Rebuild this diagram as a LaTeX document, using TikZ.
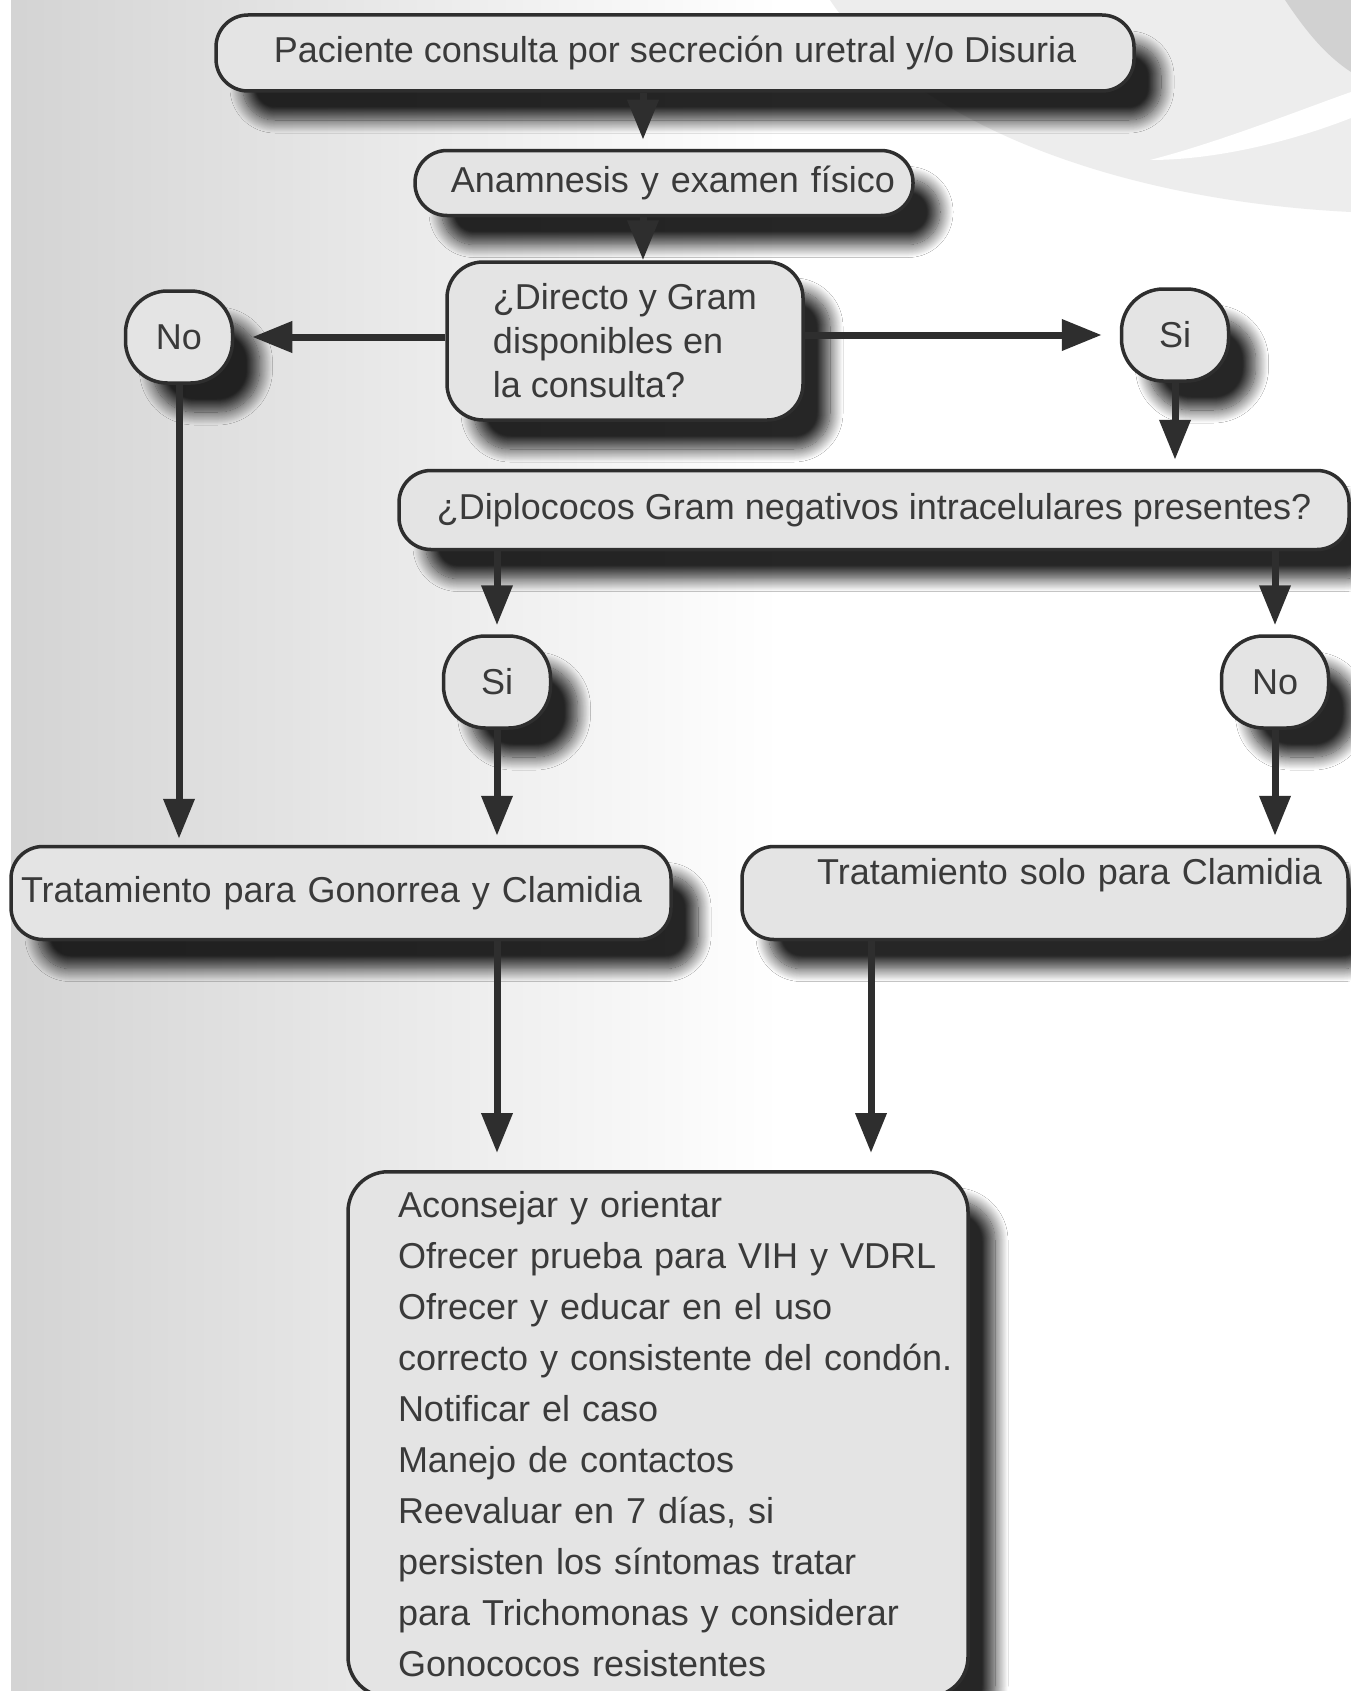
\documentclass[tikz,border=0pt]{standalone}
\usepackage{fontspec}
\setmainfont{Liberation Sans}
\usetikzlibrary{arrows.meta,shadows.blur}
\definecolor{tinta}{HTML}{2E2E2E}
\definecolor{relleno}{HTML}{E4E4E4}
\definecolor{letra}{HTML}{3A3A3A}
\newcommand\letrafs{\fontsize{36}{44}\selectfont}
\tikzset{
  caja/.style={draw=tinta, line width=3.5pt, fill=relleno, text=letra, font=\letrafs,
    rounded corners=32pt, inner sep=0pt,
    blur shadow={shadow xshift=27pt, shadow yshift=-29pt, shadow blur radius=13pt,
      shadow blur steps=18, shadow opacity=85}},
  resp/.style={caja, minimum width=107pt, minimum height=92pt, rounded corners=42pt},
  flecha/.style={draw=tinta, line width=7pt, -{Triangle[length=40pt,width=30pt]}, shorten >=9pt},
}
\begin{document}
\begin{tikzpicture}[x=1pt,y=-1pt,line join=round]
  \useasboundingbox (0,0) rectangle (1351,1691);
  % fondo
  \fill[white] (0,0) rectangle (1351,1691);
  \shade[left color=black!17, right color=white] (11,0) rectangle (780,1691);
  \fill[black!7] (830,0) .. controls (910,120) and (1110,200) .. (1351,212) -- (1351,0) -- cycle;
  \fill[white] (1150,160) .. controls (1220,142) and (1300,110) .. (1351,92) -- (1351,118) .. controls (1290,142) and (1215,160) .. (1150,160) -- cycle;
  \fill[black!18] (1285,0) .. controls (1305,30) and (1325,55) .. (1351,72) -- (1351,0) -- cycle;

  \node[caja, minimum width=918pt, minimum height=76pt] (top) at (675,53) {Paciente consulta por secreción uretral y/o Disuria};
  \node[caja, minimum height=65pt, text width=462pt, inner xsep=18pt, align=right] (anam) at (664,183) {Anamnesis y examen físico};
  \node[caja, minimum width=356pt, minimum height=158pt, align=left, rounded corners=36pt] (dir) at (625,341) {¿Directo y Gram\\disponibles en\\la consulta?};
  \node[resp] (no1) at (179,337) {No};
  \node[resp] (si1) at (1175,335) {Si};
  \node[caja, minimum width=950pt, minimum height=79pt] (diplo) at (874,510) {¿Diplococos Gram negativos intracelulares presentes?};
  \node[resp] (si2) at (497,682) {Si};
  \node[resp] (no2) at (1275,682) {No};
  \node[caja, minimum height=93pt, text width=640pt, inner xsep=10pt, align=left] (trat1) at (341,893) {Tratamiento para Gonorrea y Clamidia};
  \node[caja, minimum height=93pt, text width=554pt, inner xsep=26pt, align=right] (trat2) at (1045,893) {Tratamiento solo para Clamidia\\\mbox{}};
  \node[caja, anchor=north, minimum height=525pt, text width=600pt, inner xsep=10pt, align=left,
    rounded corners=40pt, font=\fontsize{36}{51}\selectfont] (fin) at (658,1170) {\leftskip=40pt
    Aconsejar y orientar\\
    Ofrecer prueba para VIH y VDRL\\
    Ofrecer y educar en el uso\\
    correcto y consistente del condón.\\
    Notificar el caso\\
    Manejo de contactos\\
    Reevaluar en 7 días, si\\
    persisten los síntomas tratar\\
    para Trichomonas y considerar\\
    Gonococos resistentes\par};

  \coordinate (c1) at (643,0);
  \coordinate (c2) at (871,0);
  \draw[flecha] (top.south -| c1) -- (anam.north -| c1);
  \draw[flecha, shorten >=0pt] (anam.south -| c1) -- (dir.north -| c1);
  \draw[flecha, shorten >=18pt] (dir.west |- no1) -- (no1.east);
  \draw[flecha, shorten >=18pt] (dir.east |- si1) -- (si1.west);
  \draw[flecha] (si1.south) -- (si1.south |- diplo.north);
  \draw[flecha] (diplo.south -| si2) -- (si2.north);
  \draw[flecha] (diplo.south -| no2) -- (no2.north);
  \draw[flecha, shorten >=6pt] (no1.south) -- (no1.south |- trat1.north);
  \draw[flecha] (si2.south) -- (si2.south |- trat1.north);
  \draw[flecha] (no2.south) -- (no2.south |- trat2.north);
  \draw[flecha, shorten >=17pt] (trat1.south -| si2) -- (fin.north -| si2);
  \draw[flecha, shorten >=17pt] (trat2.south -| c2) -- (fin.north -| c2);
\end{tikzpicture}
\end{document}
